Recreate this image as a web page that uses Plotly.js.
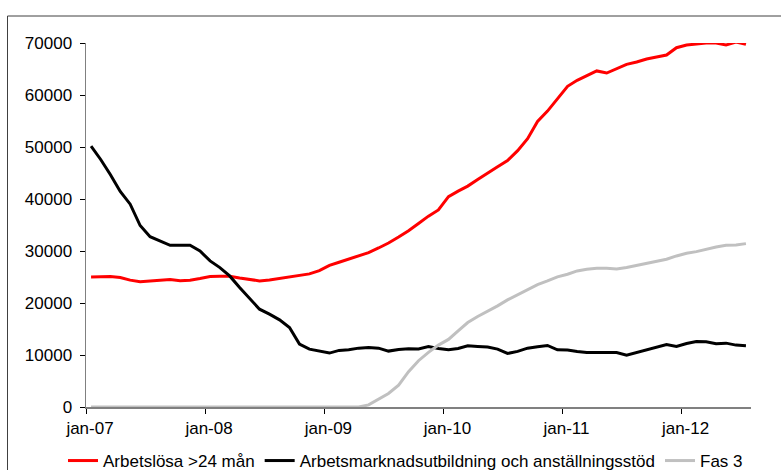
<!DOCTYPE html>
<html>
<head>
<meta charset="utf-8">
<script src="https://cdn.plot.ly/plotly-3.0.1.min.js"></script>
<style>html,body{margin:0;padding:0;background:#fff;}#chart{width:781px;height:470px;}</style>
</head>
<body>
<div id="chart"></div>
<script>
var months = [
 '2007-01','2007-02','2007-03','2007-04','2007-05','2007-06','2007-07','2007-08','2007-09','2007-10','2007-11','2007-12',
 '2008-01','2008-02','2008-03','2008-04','2008-05','2008-06','2008-07','2008-08','2008-09','2008-10','2008-11','2008-12',
 '2009-01','2009-02','2009-03','2009-04','2009-05','2009-06','2009-07','2009-08','2009-09','2009-10','2009-11','2009-12',
 '2010-01','2010-02','2010-03','2010-04','2010-05','2010-06','2010-07','2010-08','2010-09','2010-10','2010-11','2010-12',
 '2011-01','2011-02','2011-03','2011-04','2011-05','2011-06','2011-07','2011-08','2011-09','2011-10','2011-11','2011-12',
 '2012-01','2012-02','2012-03','2012-04','2012-05','2012-06','2012-07'
];

var arbetslosa = [
 25000,25100,25080,24900,24400,24100,24200,24380,24500,24300,24380,24700,
 25080,25150,25150,24820,24500,24250,24440,24700,25020,25270,25600,26230,
 27250,27830,28400,29050,29700,30580,31540,32700,33900,35300,36700,37900,
 40440,41520,42480,43760,45050,46200,47400,49300,51600,54900,56900,59250,
 61670,62830,63790,64630,64230,65010,65900,66350,66930,67310,67690,69100,
 69610,69800,70000,70000,69610,70190,69740
];

var arbetsmarknad = [
 50160,47600,44720,41450,39000,34900,32760,31930,31100,31100,31100,30000,
 28090,26810,25210,22970,20860,18810,17850,16760,15290,12090,11130,10690,
 10370,10880,11000,11320,11450,11320,10750,11070,11200,11150,11640,11260,
 11000,11260,11770,11640,11520,11130,10300,10690,11320,11580,11840,11000,
 10940,10690,10490,10490,10490,10490,9980,10490,11130,11640,12030,11640,
 12220,12600,12540,12160,12280,11900,11770
];

var fas3 = [
 0,0,0,0,0,0,0,0,0,0,0,0,
 0,0,0,0,0,0,0,0,0,0,0,0,
 0,0,0,0,400,1500,2600,4200,6800,8900,10500,11900,
 13000,14650,16250,17400,18360,19450,20600,21560,22650,23550,24250,25020,
 25530,26170,26490,26680,26680,26550,26810,27190,27580,27960,28410,29050,
 29560,29880,30330,30780,31090,31160,31420
];

var seriesNames = ['Arbetslösa >24 mån', 'Arbetsmarknadsutbildning och anställningsstöd', 'Fas 3'];
var tickVals = ['2007-01-01','2008-01-01','2009-01-01','2010-01-01','2011-01-01','2012-01-01'];
var tickLabels = ['jan-07','jan-08','jan-09','jan-10','jan-11','jan-12'];

var FONT = 'Liberation Sans, Arial, Helvetica, sans-serif';
var W = 781, H = 470;

function tr(y, name, color) {
  return {
    x: months, y: y, name: name, type: 'scatter', mode: 'lines',
    xperiod: 'M1', xperiodalignment: 'middle',
    line: {color: color, width: 3},
    cliponaxis: false, hoverinfo: 'skip'
  };
}

var data = [
  tr(arbetslosa, seriesNames[0], '#ff0000'),
  tr(arbetsmarknad, seriesNames[1], '#000000'),
  tr(fas3, seriesNames[2], '#c0c0c0')
];

// plot area in pixels: left 86, right 751, top 43, bottom 407
var layout = {
  width: W, height: H,
  margin: {l: 0, r: 0, t: 0, b: 0, pad: 0, autoexpand: false},
  paper_bgcolor: '#ffffff', plot_bgcolor: '#ffffff',
  font: {family: FONT, size: 17, color: '#000000'},
  showlegend: true,
  xaxis: {
    domain: [86 / W, 751 / W],
    type: 'date', range: ['2007-01-01', '2012-08-01'],
    tickmode: 'array', tickvals: tickVals, ticktext: tickLabels,
    ticks: 'outside', ticklen: 5, tickwidth: 1, tickcolor: '#000000',
    showline: true, linecolor: '#808080', linewidth: 1.5,
    showgrid: false, zeroline: false, layer: 'below traces',
    tickfont: {family: FONT, size: 17, color: '#000000'},
    ticklabelshift: 4, fixedrange: true, automargin: false
  },
  yaxis: {
    domain: [(H - 407) / H, (H - 43) / H],
    range: [0, 70000], dtick: 10000, tick0: 0, tickformat: 'd',
    ticks: 'outside', ticklen: 5, tickwidth: 1, tickcolor: '#000000',
    showline: true, linecolor: '#808080', linewidth: 1.5,
    showgrid: false, zeroline: false, layer: 'below traces',
    tickfont: {family: FONT, size: 17, color: '#000000'},
    ticklabelstandoff: 4, fixedrange: true, automargin: false
  },
  legend: {
    orientation: 'h', xref: 'paper', x: 63 / W, xanchor: 'left',
    yref: 'paper', y: (H - 461) / H, yanchor: 'middle',
    font: {family: FONT, size: 17, color: '#000000'},
    bgcolor: 'rgba(0,0,0,0)', borderwidth: 0
  },
  shapes: [{
    type: 'rect', xref: 'paper', yref: 'paper', layer: 'below',
    x0: 7.5 / W, x1: 2, y0: -1, y1: (H - 16) / H,
    line: {color: '#404040', width: 1}, fillcolor: 'rgba(0,0,0,0)'
  }]
};

Plotly.newPlot('chart', data, layout, {displayModeBar: false, staticPlot: true});
</script>
</body>
</html>
